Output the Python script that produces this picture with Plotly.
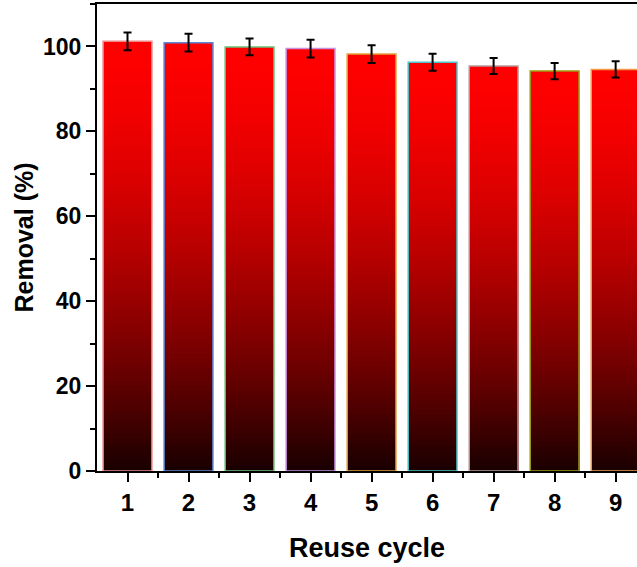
import plotly.graph_objects as go

cycles = [1, 2, 3, 4, 5, 6, 7, 8, 9]
removal = [101.2, 100.9, 99.9, 99.5, 98.2, 96.3, 95.4, 94.2, 94.6]
errors = [2.1, 2.1, 2.0, 2.1, 2.1, 2.0, 1.9, 1.9, 1.9]
edge_colors = ["#f08a8a", "#5b86d6", "#6cc07a", "#c98fe0", "#e2a23a",
               "#4cc6c8", "#b89a9a", "#9e9a10", "#f29a4a"]
tick_labels = ["1", "2", "3", "4", "5", "6", "7", "8", "9"]

FONT = "Liberation Sans, Arial, sans-serif"
N = 80  # gradient steps per bar


def grad_color(f):
    r = 25 + 230 * (1 - (1 - f) ** 1.6)
    return f"rgb({int(round(r))},0,0)"


# gradient: nested bars from base 0, tallest (red) drawn first, shorter (darker) on top
seg_x, seg_h, seg_col = [], [], []
for k in range(N, 0, -1):
    for x, v in zip(cycles, removal):
        seg_x.append(x)
        seg_h.append(v * k / N)
        seg_col.append(grad_color((k - 0.5) / N))

fig = go.Figure()
fig.add_trace(go.Bar(
    x=seg_x, y=seg_h, base=0, width=0.8,
    marker=dict(color=seg_col, line=dict(width=0)),
    hoverinfo="skip", showlegend=False,
))
fig.add_trace(go.Bar(
    x=cycles, y=removal, base=0, width=0.8,
    marker=dict(color="rgba(0,0,0,0)", line=dict(color=edge_colors, width=1.5)),
    error_y=dict(type="data", array=errors, color="black", thickness=2, width=4),
    showlegend=False,
))

fig.update_layout(
    width=637, height=567,
    margin=dict(l=97, r=0, t=4, b=96),
    barmode="overlay",
    plot_bgcolor="white", paper_bgcolor="white",
    font=dict(family=FONT, color="black"),
    xaxis=dict(
        range=[0.5, 9.35], tickmode="array", tickvals=cycles, ticktext=tick_labels,
        showline=True, linecolor="black", linewidth=2, mirror=True,
        ticks="outside", ticklen=9, tickwidth=2, tickcolor="black",
        minor=dict(tickvals=[1.5, 2.5, 3.5, 4.5, 5.5, 6.5, 7.5, 8.5], ticks="outside",
                   ticklen=5, tickwidth=2, tickcolor="black"),
        tickfont=dict(family=FONT, size=24, color="black", weight="bold"),
        title=dict(text="Reuse cycle", font=dict(family=FONT, size=27, weight="bold"),
                   standoff=23),
        showgrid=False, zeroline=False,
    ),
    yaxis=dict(
        range=[0, 110], tick0=0, dtick=20,
        showline=True, linecolor="black", linewidth=2, mirror=False,
        ticks="outside", ticklen=9, tickwidth=2, tickcolor="black",
        minor=dict(dtick=10, ticks="outside", ticklen=5, tickwidth=2, tickcolor="black"),
        tickfont=dict(family=FONT, size=23, color="black", weight="bold"),
        title=dict(text="Removal (%)", font=dict(family=FONT, size=25, weight="bold"),
                   standoff=2),
        showgrid=False, zeroline=False,
    ),
)

fig.write_html("out.html")
